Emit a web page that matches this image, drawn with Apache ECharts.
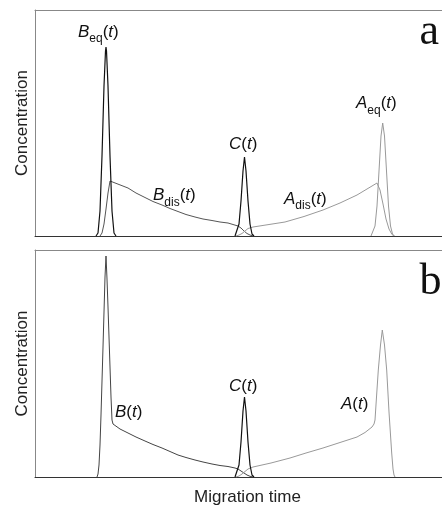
<!DOCTYPE html>
<html>
<head>
<meta charset="utf-8">
<script src="https://cdn.jsdelivr.net/npm/echarts@6/dist/echarts.min.js"></script>
<style>html,body{margin:0;padding:0;background:#fff}#c{width:442px;height:508px}</style>
</head>
<body>
<div id="c"></div>
<script>
// Panel (a): equilibrium / disequilibrium components, [migration time, concentration]
var beqA = [[61,0],[63,3],[65,25],[67,80],[69,150],[70.5,185],[71,189],[71.5,185],[73,150],[75,80],[77,25],[79,3],[81,0]];
var bdisA = [[65,0],[67,3],[69,12],[71,27],[73,43],[75,55],[84,51.5],[93,48],[101,43],[110,38.5],[118,34.5],[127,31],[135,27.5],[143,24.5],[151,21.5],[160,19],[168,17],[177,15.5],[185,14],[193,13],[198,11.5],[203,10],[206,8],[209,5],[212,2.5],[215,1],[218,0]];
var cA = [[200,0],[202,2],[204,12],[206,35],[208,65],[209.5,79],[211,65],[213,35],[215,12],[217,2],[219,0]];
var adisA = [[201,0],[204,1],[207,2.5],[210,5],[213,7.5],[218,9],[234,11.5],[250,14],[269,19.5],[288,26],[305,33],[322,41],[332,47],[342,53],[345,46],[348,32],[351,17],[354,7],[357,1.5],[359,0]];
var aeqA = [[336,0],[338,2],[340,10],[342,30],[344,65],[346,100],[347.7,113],[349.5,100],[351.5,65],[353.5,30],[355.5,10],[357.5,2],[359.5,0]];
// Panel (b): total zones
var bB = [[62,0],[63,3],[64,12],[65,32],[66,62],[67,96],[68,130],[69,165],[70,200],[71,221],[72,198],[73,170],[74,140],[75,110],[76,80],[77,57],[78,53],[85,48],[93,44],[101,40],[110,36],[118,32.5],[127,29],[135,25.5],[143,22],[151,19.5],[160,17],[168,15],[177,13],[185,11.5],[193,10.5],[200,9],[203,8],[206,6],[209,4],[212,2],[215,0.7],[218,0]];
var cB = [[200,0],[202,2],[204,12],[206,35],[208,66],[209.5,80],[211,66],[213,35],[215,12],[217,2],[219,0]];
var aB = [[201,0],[204,1],[207,3],[210,5.5],[213,8],[218,10],[236,14],[255,19],[271,24],[288,29],[305,34.5],[322,40],[330,44.5],[337,50],[339,53],[340,57],[341.5,80],[343.3,107],[345.5,132],[347.3,147],[349.5,132],[351.7,107],[354,65],[356.7,24],[358,8],[359,2],[360,0]];

var chart = echarts.init(document.getElementById('c'));
function line(data, xi, color, w) {
  return {type:'line', xAxisIndex:xi, yAxisIndex:xi, data:data, showSymbol:false, symbol:'none',
    lineStyle:{color:color, width:w}, silent:true, animation:false, z:3};
}
var F = 'Liberation Sans, Arial, sans-serif';
var rich = {
  i:{fontFamily:F, fontStyle:'italic', fontSize:17, lineHeight:26, color:'#111', verticalAlign:'middle'},
  n:{fontFamily:F, fontSize:17, lineHeight:26, color:'#111', verticalAlign:'middle'},
  s:{fontFamily:F, fontSize:12, lineHeight:14, color:'#111', verticalAlign:'bottom'}
};
function lbl(text, x, y) {
  return {type:'text', x:x, y:y, style:{text:text, rich:rich, align:'left', verticalAlign:'middle', fill:'#111'}, z:10};
}
function xa(g, pos, color) {
  return {type:'value', gridIndex:g, position:pos, min:0, max:407, axisLine:{show:true, onZero:false, lineStyle:{color:color}},
    axisTick:{show:false}, axisLabel:{show:false}, splitLine:{show:false}};
}
function ya(g, max) {
  return {type:'value', gridIndex:g, min:0, max:max, axisLine:{show:true, lineStyle:{color:'#888'}}, axisTick:{show:false}, axisLabel:{show:false}, splitLine:{show:false},
    name:'Concentration', nameLocation:'middle', nameGap:4, nameTextStyle:{fontFamily:F, fontSize:17, color:'#222'}};
}
chart.setOption({
  animation:false,
  grid:[
    {left:35, right:0, top:10, height:226},
    {left:35, right:0, top:250, height:227}
  ],
  xAxis:[ xa(0,'bottom','#333'), xa(1,'bottom','#333'), xa(0,'top','#888'), xa(1,'top','#888') ],
  yAxis:[ ya(0,226), ya(1,227) ],
  series:[
    line(bdisA, 0, '#555', 1),
    line(adisA, 0, '#999', 1),
    line(aeqA, 0, '#999', 1),
    line(beqA, 0, '#111', 1.2),
    line(cA, 0, '#111', 1.2),
    line(bB, 1, '#444', 1),
    line(aB, 1, '#999', 1),
    line(cB, 1, '#111', 1.2)
  ],
  graphic:[
    lbl('{i|B}{s|eq}{n|(}{i|t}{n|)}', 78, 32),
    lbl('{i|B}{s|dis}{n|(}{i|t}{n|)}', 153, 195.5),
    lbl('{i|C}{n|(}{i|t}{n|)}', 229, 144.5),
    lbl('{i|A}{s|dis}{n|(}{i|t}{n|)}', 284, 199),
    lbl('{i|A}{s|eq}{n|(}{i|t}{n|)}', 356, 103.5),
    lbl('{i|B}{n|(}{i|t}{n|)}', 115, 412.5),
    lbl('{i|C}{n|(}{i|t}{n|)}', 229, 386),
    lbl('{i|A}{n|(}{i|t}{n|)}', 341, 404),
    {type:'text', x:247.5, y:497, style:{text:'Migration time', font:'17px ' + F, fill:'#222', align:'center', verticalAlign:'middle'}, z:10},
    {type:'text', x:419.5, y:32, style:{text:'a', font:'44px "Liberation Serif", "Times New Roman", serif', fill:'#111', align:'left', verticalAlign:'middle'}, z:10},
    {type:'text', x:419.5, y:282, style:{text:'b', font:'44px "Liberation Serif", "Times New Roman", serif', fill:'#111', align:'left', verticalAlign:'middle'}, z:10}
  ]
});
</script>
</body>
</html>
